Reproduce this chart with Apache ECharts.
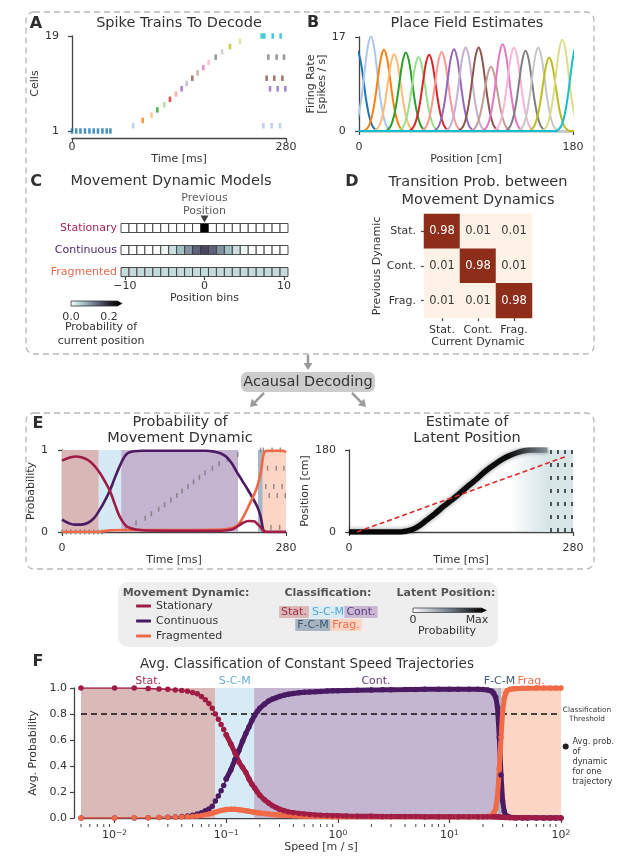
<!DOCTYPE html>
<html>
<head>
<meta charset="utf-8">
<script src="https://cdn.jsdelivr.net/npm/echarts@6.0.0/dist/echarts.min.js"></script>
<style>html,body{margin:0;padding:0;background:#fff;}#chart{width:617px;height:863px;}</style>
</head>
<body>
<div id="chart"></div>
<script>
// ---------------- DATA ----------------
// Panel A: spike trains
const spikeTimes = [0,5.5,11,17,22.8,28.4,34,39.8,45.4,50.2,
  80,92.5,104,111.7,120.8,128.2,136.1,143.5,150,157.4,164.4,171.8,178.8,188,196.3,206.7,219.8,
  248.2,251.6,262.6,273, 256.9,267.8,277.4, 254.7,264.7,275.2, 259.1,269.1,279.1, 250.3,261.2,272.1];
const spikeCells = [1,1,1,1,1,1,1,1,1,1,
  2,3,4,5,6,7,8,9,10,11,12,13,14,15,16,17,18,
  19,19,19,19, 15,15,15, 11,11,11, 9,9,9, 2,2,2];
const cellColors = ['#1f77b4','#aec7e8','#ff7f0e','#ffbb78','#2ca02c','#98df8a','#d62728','#ff9896','#9467bd','#c5b0d5',
  '#8c564b','#c49c94','#e377c2','#f7b6d2','#7f7f7f','#c7c7c7','#bcbd22','#dbdb8d','#17becf'];

// Panel B: place fields (centre, peak rate, shared shape)
const fieldCenters = [-1.5,10,21,29.6,39.4,50.1,59,69.5,79.9,89.7,100.6,111,120.8,130.4,140.1,150.8,160,171,183];
const fieldPeaks = [14.5,17.1,14.7,13.9,14.2,13.4,13.8,14.3,14.8,15.1,15.1,11.6,15.7,15.1,14.5,15.1,13.3,16.5,15.5];
const fieldShapeOffsets = [-17.5,-15,-12.5,-10,-7.5,-5,-2.5,0,2.5,5,7.5,10,12.5,15,17.5];
const fieldShapeFractions = [0,0.02,0.07,0.19,0.39,0.66,0.9,1,0.9,0.66,0.39,0.19,0.07,0.02,0];

// Panel C: movement dynamic models
const cRowNames = ['Fragmented','Continuous','Stationary'];
const cBins = [-10,-9,-8,-7,-6,-5,-4,-3,-2,-1,0,1,2,3,4,5,6,7,8,9,10];
const statBins = [0,0,0,0,0,0,0,0,0,0,1,0,0,0,0,0,0,0,0,0,0];
const contBins = [0,0,0,0,0.003,0.012,0.035,0.065,0.1,0.14,0.165,0.14,0.1,0.065,0.035,0.012,0.003,0,0,0,0];
const fragBins = [0.04,0.04,0.04,0.04,0.04,0.04,0.04,0.04,0.04,0.04,0.04,0.04,0.04,0.04,0.04,0.04,0.04,0.04,0.04,0.04,0.04];
const boneColors = ['#ffffff','#d3e3e3','#a8c7c7','#8ba1ab','#707b8f','#545574','#38384e','#1c1c27','#000000'];

// Panel D: transition matrix
const dynShort = ['Stat.','Cont.','Frag.'];
const transitionProbs = [[0.98,0.01,0.01],[0.01,0.98,0.01],[0.01,0.01,0.98]];

// Panel E left: probability of dynamic
const stationaryE = [[0,0.87],[10,0.91],[18,0.92],[28,0.9],[35,0.86],[42,0.79],[48,0.71],[54,0.61],[60,0.5],[66,0.34],[72,0.19],[79,0.085],[86,0.045],[93,0.03],[105,0.018],[150,0.015],[200,0.016],[212,0.03],[218,0.06],[226,0.11],[233,0.135],[240,0.13],[245,0.09],[249,0.05],[252,0.01],[256,0],[280,0]];
const continuousE = [[0,0.15],[8,0.11],[16,0.09],[24,0.09],[32,0.11],[40,0.17],[47,0.27],[54,0.39],[60,0.51],[66,0.66],[72,0.8],[77,0.9],[82,0.96],[90,0.985],[100,0.99],[180,0.99],[190,0.98],[198,0.96],[205,0.92],[212,0.84],[218,0.74],[225,0.63],[232,0.52],[238,0.42],[244,0.31],[248,0.2],[250,0.1],[252,0.02],[256,0],[280,0]];
const fragmentedE = [[0,0],[45,0],[52,0.01],[60,0.02],[80,0.025],[150,0.025],[200,0.03],[210,0.045],[218,0.07],[224,0.14],[230,0.25],[236,0.37],[242,0.5],[246,0.62],[249,0.75],[251,0.9],[253,0.97],[256,0.99],[276,0.99],[280,0.97]];
const eBandStarts = [0,46,74,245,251];
const eBandEnds = [46,74,220,251,280];
const eBandFills = ['#d9b7b7','#d5eaf5','#c4b4d0','#a8b7c5','#fdd5c4'];

// Panel E right: latent position estimate
const posteriorPath = [[0,0],[64,0],[72,2],[80,6],[88,14],[97,26],[108,41],[118,56],[129,71],[139,86],[151,104],[160,117],[168,130],[177,142],[185,152],[193,161],[201,168],[210,174],[218,178],[226,180],[248,180]];
const trueTrajectory = [[10,0],[270,165]];
const streakTimes = [252,261,270,278];

// Panel F: average classification vs speed
const speedSparse = [0.005,0.01,0.015,0.02,0.025,0.03,0.035,0.04,0.045,0.05,0.055,0.06,0.065,0.07,0.075,0.08,0.085,0.09,0.095,0.1];
const statSparse = [1,1,1,0.996,0.993,0.99,0.985,0.98,0.975,0.965,0.955,0.935,0.91,0.88,0.845,0.8,0.76,0.72,0.68,0.64];
const contSparse = [0,0,0,0.002,0.004,0.006,0.008,0.012,0.016,0.022,0.03,0.04,0.055,0.07,0.09,0.13,0.17,0.21,0.25,0.3];
const fragSparse = [0,0,0.001,0.002,0.003,0.004,0.005,0.007,0.009,0.012,0.015,0.02,0.025,0.03,0.037,0.045,0.052,0.058,0.062,0.066];
const speedDense = [0.1,0.11,0.12,0.13,0.14,0.15,0.16,0.17,0.18,0.19,0.2,0.22,0.24,0.26,0.28,0.3,0.33,0.36,0.4,0.45,0.5,0.56,0.63,0.7,0.8,0.9,1,1.2,1.5,2,2.5,3,4,5,6,8,10,12,15,18,20,22,24,25,26,27,28,29,30,31,32,33,35,38,40,45,50,60,70,80,90,100];
const statDense = [0.64,0.57,0.5,0.43,0.39,0.35,0.3,0.26,0.23,0.2,0.175,0.14,0.115,0.095,0.08,0.068,0.056,0.047,0.04,0.034,0.03,0.027,0.024,0.022,0.02,0.018,0.017,0.015,0.014,0.013,0.012,0.012,0.011,0.011,0.01,0.01,0.01,0.01,0.01,0.01,0.01,0.01,0.01,0.01,0.01,0.009,0.008,0.006,0.005,0.004,0.003,0.003,0.002,0.002,0.001,0.001,0.001,0.001,0,0,0,0];
const contDense = [0.3,0.37,0.45,0.52,0.59,0.65,0.7,0.75,0.79,0.82,0.845,0.875,0.9,0.915,0.925,0.935,0.945,0.952,0.958,0.963,0.967,0.97,0.972,0.974,0.976,0.978,0.979,0.981,0.983,0.985,0.986,0.987,0.988,0.989,0.99,0.99,0.99,0.99,0.99,0.99,0.988,0.985,0.975,0.96,0.93,0.85,0.62,0.33,0.13,0.05,0.02,0.01,0.005,0.002,0.001,0,0,0,0,0,0,0];
const fragDense = [0.066,0.068,0.067,0.064,0.06,0.056,0.052,0.048,0.044,0.041,0.038,0.034,0.03,0.027,0.025,0.023,0.021,0.019,0.017,0.015,0.014,0.013,0.012,0.011,0.011,0.01,0.01,0.01,0.01,0.01,0.01,0.01,0.01,0.01,0.01,0.01,0.01,0.01,0.01,0.01,0.01,0.012,0.02,0.035,0.07,0.17,0.38,0.62,0.82,0.92,0.96,0.98,0.99,0.995,0.997,0.998,0.999,1,1,1,1,1];
const fBandNames = ['Stat.','S-C-M','Cont.','F-C-M','Frag.'];
const fBandStarts = [0.005,0.08,0.178,27.2,29.1];
const fBandEnds = [0.08,0.178,27.2,29.1,100];
const fBandFills = ['#dab9b9','#d6ebf5','#c4b5d1','#a9b8c6','#fdd5c4'];
const fBandTextColors = ['#a8304f','#62b0d8','#5e3c80','#3f5c78','#f07050'];
const fThreshold = 0.8;
const fMajorTicks = [0.01,0.1,1,10,100];
const fMajorExp = ['\u22122','\u22121','0','1','2'];
const fMinorTicks = [0.005,0.006,0.007,0.008,0.009,0.02,0.03,0.04,0.05,0.06,0.07,0.08,0.09,0.2,0.3,0.4,0.5,0.6,0.7,0.8,0.9,2,3,4,5,6,7,8,9,20,30,40,50,60,70,80,90];

// ---------------- STYLE ----------------
const FF = 'DejaVu Sans', TX = '#333333', AX = '#444444';
const STAT_C = '#a01c45', CONT_C = '#4a1a63', FRAG_C = '#f06a47';
const dynLabelColors = {Stationary:'#a3264d', Continuous:'#4d2a6e', Fragmented:'#ec6c4d'};

function merge(a, b) {
  for (const k in b) {
    const v = b[k];
    if (v && typeof v === 'object' && !Array.isArray(v) && typeof v !== 'function' && a[k] && typeof a[k] === 'object' && !Array.isArray(a[k])) merge(a[k], v);
    else a[k] = v;
  }
  return a;
}
function ax(o) {
  return merge({
    splitLine:{show:false},
    axisLine:{show:true, lineStyle:{color:AX, width:1.3}},
    axisTick:{show:true, length:4, lineStyle:{color:AX, width:1.2}},
    axisLabel:{color:TX, fontSize:11, fontFamily:FF, margin:7},
    nameLocation:'middle',
    nameTextStyle:{color:TX, fontSize:11, fontFamily:FF}
  }, o);
}

// ---------------- SERIES ----------------
const series = [];
// A
series.push({type:'scatter', xAxisIndex:0, yAxisIndex:0, symbol:'rect', symbolSize:[2.6,5.5],
  data: spikeTimes.map((t,i)=>[t, spikeCells[i]]),
  itemStyle:{color:(p)=>cellColors[p.value[1]-1]}, silent:true});
// B
fieldCenters.forEach((c, k) => {
  const pts = [[-40,0]];
  fieldShapeOffsets.forEach((d, j) => pts.push([c + d, fieldPeaks[k] * fieldShapeFractions[j]]));
  pts.push([220,0]);
  series.push({type:'line', xAxisIndex:1, yAxisIndex:1, data:pts, smooth:0.35, symbol:'none',
    lineStyle:{color:cellColors[k], width:2}, silent:true});
});
// C
const cData = [];
[fragBins, contBins, statBins].forEach((arr, r) => arr.forEach((v, j) => cData.push([cBins[j], cRowNames[r], v])));
const cIndex = series.length;
series.push({type:'custom', xAxisIndex:2, yAxisIndex:2, data:cData, encode:{x:0, y:1}, silent:true,
  renderItem:(params, api) => {
    const a = api.coord([api.value(0) - 0.5, api.value(1)]);
    const b = api.coord([api.value(0) + 0.5, api.value(1)]);
    const h = 9;
    return {type:'rect', shape:{x:a[0], y:a[1]-h/2, width:b[0]-a[0], height:h},
      style:{fill:api.visual('color'), stroke:'#3a3a3a', lineWidth:0.9}};
  }});
series.push({type:'scatter', xAxisIndex:2, yAxisIndex:2, data:[[0,'Stationary']], symbol:'triangle', symbolRotate:180,
  symbolSize:[8,7], symbolOffset:[0,-9], itemStyle:{color:'#111'}, silent:true, z:5,
  label:{show:true, position:'top', distance:-2, formatter:'Previous\nPosition', color:TX, fontSize:11, lineHeight:13, fontFamily:FF}});
// D
const dData = [];
transitionProbs.forEach((row, r) => row.forEach((v, c) => dData.push({value:[c, r, v], label:{color: v > 0.5 ? '#ffffff' : '#3a3a3a'}})));
const dIndex = series.length;
series.push({type:'heatmap', xAxisIndex:3, yAxisIndex:3, data:dData, silent:true,
  label:{show:true, fontSize:11.5, fontFamily:FF, formatter:(p)=>p.value[2].toFixed(2)}});
// E left
series.push({type:'line', name:'Continuous', xAxisIndex:4, yAxisIndex:4, data:continuousE, smooth:0.4, symbol:'none',
  lineStyle:{color:CONT_C, width:2.6}, itemStyle:{color:CONT_C}, silent:true,
  markArea:{silent:true, data: eBandStarts.map((s,i)=>[{xAxis:s, itemStyle:{color:eBandFills[i]}}, {xAxis:eBandEnds[i]}])}});
series.push({type:'line', name:'Fragmented', xAxisIndex:4, yAxisIndex:4, data:fragmentedE, smooth:0.4, symbol:'none',
  lineStyle:{color:FRAG_C, width:2.6}, itemStyle:{color:FRAG_C}, silent:true});
series.push({type:'line', name:'Stationary', xAxisIndex:4, yAxisIndex:4, data:stationaryE, smooth:0.4, symbol:'none',
  lineStyle:{color:STAT_C, width:2.6}, itemStyle:{color:STAT_C}, silent:true});
series.push({type:'scatter', xAxisIndex:4, yAxisIndex:5, symbol:'rect', symbolSize:[1.5,5],
  data: spikeTimes.map((t,i)=>[t, spikeCells[i]]), itemStyle:{color:'rgba(105,105,105,0.85)'}, silent:true});
// E right
series.push({type:'line', xAxisIndex:5, yAxisIndex:6, data:posteriorPath, smooth:0.4, symbol:'none', silent:true,
  lineStyle:{width:5.5, color:new echarts.graphic.LinearGradient(0,0,1,0,[{offset:0,color:'#050505'},{offset:0.8,color:'#0d0d0d'},{offset:1,color:'#8d9aa1'}]),
    shadowBlur:4, shadowColor:'rgba(30,45,55,0.55)'},
  markArea:{silent:true, data:[[{xAxis:200, itemStyle:{color:new echarts.graphic.LinearGradient(0,0,1,0,[{offset:0,color:'rgba(214,228,230,0)'},{offset:0.6,color:'rgba(214,228,230,0.95)'},{offset:1,color:'rgba(214,228,230,0.95)'}])}},{xAxis:280}]]}});
series.push({type:'line', xAxisIndex:5, yAxisIndex:6, data:[], silent:true,
  markLine:{silent:true, symbol:['none','none'], label:{show:false}, lineStyle:{color:'#263038', width:1.6, type:[4,9]},
    data: streakTimes.map(t=>({xAxis:t}))}});
series.push({type:'line', xAxisIndex:5, yAxisIndex:6, data:trueTrajectory, symbol:'none', silent:true,
  lineStyle:{color:'#e02b2b', width:1.6, type:[5,3]}});
// F
series.push({type:'line', xAxisIndex:6, yAxisIndex:7, data:[], silent:true,
  markArea:{silent:true, label:{show:true, position:'top', distance:1, fontSize:11, fontFamily:FF},
    data: fBandNames.map((n,i)=>[{name:n, xAxis:fBandStarts[i], itemStyle:{color:fBandFills[i]}, label:{color:fBandTextColors[i]}}, {xAxis:fBandEnds[i]}])},
  markLine:{silent:true, z:1.5, symbol:['none','none'], label:{show:false}, lineStyle:{color:'#111', width:1.5, type:[6,4]},
    data:[{yAxis:fThreshold}]}});
function fSeries(name, xs, ys, color, dense) {
  return {type:'line', name, xAxisIndex:6, yAxisIndex:7, data: xs.map((x,i)=>[x, ys[i]]), symbol:'circle', symbolSize:5.5,
    showSymbol:true, itemStyle:{color}, lineStyle:{color, width: dense ? 5 : 1.5}, silent:true};
}
series.push(fSeries('Continuous avg', speedSparse, contSparse, CONT_C, false));
series.push(fSeries('Continuous avg', speedDense, contDense, CONT_C, true));
series.push(fSeries('Fragmented avg', speedSparse, fragSparse, FRAG_C, false));
series.push(fSeries('Fragmented avg', speedDense, fragDense, FRAG_C, true));
series.push(fSeries('Stationary avg', speedSparse, statSparse, STAT_C, false));
series.push(fSeries('Stationary avg', speedDense, statDense, STAT_C, true));
series.push({type:'custom', xAxisIndex:6, yAxisIndex:7, data: fMinorTicks.map(v=>[v,0]), silent:true, clip:false,
  renderItem:(params, api) => {
    const p = api.coord([api.value(0), 0]);
    return {type:'line', shape:{x1:p[0], y1:p[1]+6, x2:p[0], y2:p[1]+9}, style:{stroke:AX, lineWidth:1}};
  }});

// ---------------- GRAPHICS (frames, titles, annotations) ----------------
const G = [];
function txt(x, y, text, o) {
  o = o || {};
  G.push({type:'text', x, y, silent:true, z:10, style:Object.assign({text, fill:TX, fontSize:11, fontFamily:FF,
    align:'center', verticalAlign:'middle'}, o)});
}
function arrow(x1, y1, x2, y2) {
  const dx = x2-x1, dy = y2-y1, L = Math.hypot(dx,dy), ux = dx/L, uy = dy/L, hl = 7, hw = 4.5;
  const bx = x2-ux*hl, by = y2-uy*hl;
  G.push({type:'line', silent:true, shape:{x1, y1, x2:bx, y2:by}, style:{stroke:'#9b9b9b', lineWidth:2.5}});
  G.push({type:'polygon', silent:true, shape:{points:[[x2,y2],[bx-uy*hw, by+ux*hw],[bx+uy*hw, by-ux*hw]]}, style:{fill:'#9b9b9b'}});
}
function chip(x, y, text, bg, fg) {
  G.push({type:'text', x, y, silent:true, z:10, style:{text, fill:fg, fontSize:11, fontFamily:FF, align:'center', verticalAlign:'middle',
    backgroundColor:bg, padding:[1,2,0,2]}});
}
// dashed frames
G.push({type:'rect', silent:true, shape:{x:26, y:12, width:568, height:342, r:8}, style:{fill:'none', stroke:'#b8b8b8', lineWidth:1.3, lineDash:[6,4]}});
G.push({type:'rect', silent:true, shape:{x:26, y:413, width:568, height:156, r:8}, style:{fill:'none', stroke:'#b8b8b8', lineWidth:1.3, lineDash:[6,4]}});
// panel letters
[['A',36,24],['B',313,23],['C',36,182],['D',352,182],['E',38,424],['F',38,662]].forEach(l =>
  txt(l[1], l[2], l[0], {fontSize:16, fontWeight:'bold', fill:'#2e2e2e'}));
// titles
txt(179, 23, 'Spike Trains To Decode', {fontSize:14.5});
txt(467, 23, 'Place Field Estimates', {fontSize:14.5});
txt(171, 181, 'Movement Dynamic Models', {fontSize:14.5});
txt(478, 191, 'Transition Prob. between\nMovement Dynamics', {fontSize:14.5, lineHeight:17.5});
txt(180, 430, 'Probability of\nMovement Dynamic', {fontSize:14.5, lineHeight:16.5});
txt(467, 430, 'Estimate of\nLatent Position', {fontSize:14.5, lineHeight:16.5});
txt(307, 664, 'Avg. Classification of Constant Speed Trajectories', {fontSize:13.5});
// acausal decoding
G.push({type:'rect', silent:true, shape:{x:241, y:372, width:134, height:20, r:6}, style:{fill:'#cccccc'}});
txt(308, 382, 'Acausal Decoding', {fontSize:14.5});
arrow(308, 355, 308, 370);
arrow(264, 393, 250, 407);
arrow(352, 393, 366, 407);
// C colourbar
G.push({type:'rect', silent:true, shape:{x:71, y:301, width:46, height:5},
  style:{fill:new echarts.graphic.LinearGradient(0,0,1,0, boneColors.map((c,i)=>({offset:i/(boneColors.length-1), color:c}))), stroke:'#333', lineWidth:0.8}});
G.push({type:'polygon', silent:true, shape:{points:[[117,300.5],[122.5,303.5],[117,306.5]]}, style:{fill:'#000'}});
txt(71, 317, '0.0');
txt(109, 317, '0.2');
txt(101, 334, 'Probability of\ncurrent position', {lineHeight:14.3});
// legend box
G.push({type:'rect', silent:true, shape:{x:118, y:582, width:380, height:65, r:10}, style:{fill:'#eeeeee'}});
txt(186, 593, 'Movement Dynamic:', {fontWeight:'bold', fill:'#555'});
txt(328, 593, 'Classification:', {fontWeight:'bold', fill:'#555'});
txt(446, 593, 'Latent Position:', {fontWeight:'bold', fill:'#555'});
chip(294, 612, 'Stat.', '#dab8b8', '#a2304e');
chip(328, 612, 'S-C-M', '#d7ecf6', '#5aa5d0');
chip(361, 612, 'Cont.', '#c7b7d3', '#5b3b7e');
chip(313, 625, 'F-C-M', '#a7b5c3', '#3c5670');
chip(346, 625, 'Frag.', '#fdd3c2', '#ee6f4b');
G.push({type:'rect', silent:true, shape:{x:413, y:608, width:68, height:4.5},
  style:{fill:new echarts.graphic.LinearGradient(0,0,1,0,[{offset:0,color:'#ffffff'},{offset:0.5,color:'#7d8696'},{offset:1,color:'#000000'}]), stroke:'#444', lineWidth:0.8}});
G.push({type:'polygon', silent:true, shape:{points:[[481,607.5],[487,610.25],[481,613]]}, style:{fill:'#000'}});
txt(413, 620, '0');
txt(477, 620, 'Max');
txt(447, 631, 'Probability');
// F annotations
txt(587, 714.5, 'Classification\nThreshold', {fontSize:7.3, lineHeight:9});
G.push({type:'circle', silent:true, shape:{cx:565.7, cy:746.5, r:3}, style:{fill:'#222'}});
txt(572.5, 762, 'Avg. prob.\nof\ndynamic\nfor one\ntrajectory', {fontSize:8.2, lineHeight:10.1, align:'left'});

// ---------------- OPTION ----------------
const option = {
  animation:false,
  backgroundColor:'#ffffff',
  textStyle:{fontFamily:FF},
  grid:[
    {left:72, top:36, width:214, height:95},
    {left:359, top:37, width:214, height:94},
    {left:121, top:217, width:167, height:66},
    {left:424, top:214, width:108, height:104},
    {left:62, top:450, width:224, height:82},
    {left:349, top:450, width:224, height:82},
    {left:81, top:688, width:480, height:130}
  ],
  xAxis:[
    ax({gridIndex:0, type:'value', min:0, max:280, offset:7, name:'Time [ms]', nameGap:15, axisLabel:{customValues:[0,280], margin:4}, axisTick:{customValues:[0,280]}}),
    ax({gridIndex:1, type:'value', min:0, max:180, offset:7, name:'Position [cm]', nameGap:15, axisLabel:{customValues:[0,180], margin:4}, axisTick:{customValues:[0,180]}}),
    ax({gridIndex:2, type:'value', min:-10.5, max:10.5, offset:-6, name:'Position bins', nameGap:15, axisLine:{show:false},
      axisTick:{customValues:[-10,0,10], length:3}, axisLabel:{customValues:[-10,0,10], margin:4, formatter:(v)=> v < 0 ? '\u2212' + Math.abs(v) : String(v)}}),
    ax({gridIndex:3, type:'category', data:dynShort, name:'Current Dynamic', nameGap:17, axisLine:{show:false}, axisTick:{alignWithLabel:true, length:3, interval:0}, axisLabel:{margin:7, interval:0}}),
    ax({gridIndex:4, type:'value', min:0, max:280, offset:6.5, name:'Time [ms]', nameGap:14, axisLabel:{customValues:[0,280], margin:4}, axisTick:{customValues:[0,280]}}),
    ax({gridIndex:5, type:'value', min:0, max:280, offset:6.5, name:'Time [ms]', nameGap:14, axisLabel:{customValues:[0,280], margin:4}, axisTick:{customValues:[0,280]}}),
    ax({gridIndex:6, type:'log', logBase:10, min:0.005, max:100, offset:6, name:'Speed [m / s]', nameGap:18,
      axisTick:{customValues:fMajorTicks, length:5},
      axisLabel:{customValues:fMajorTicks, margin:5,
        formatter:(v)=>{ const i = fMajorTicks.findIndex(t => Math.abs(t - v) / t < 1e-6); return '10{s|' + (i >= 0 ? fMajorExp[i] : '') + '}'; },
        rich:{s:{fontSize:7.5, verticalAlign:'top', color:TX, fontFamily:FF, padding:[0,0,5,0]}}}})
  ],
  yAxis:[
    ax({gridIndex:0, type:'value', min:1, max:19, offset:6, name:'Cells', nameGap:19.5, axisLabel:{customValues:[1,19]}, axisTick:{customValues:[1,19]}}),
    ax({gridIndex:1, type:'value', min:0, max:17, offset:6.3, name:'Firing Rate\n[spikes / s]', nameGap:20, nameTextStyle:{lineHeight:11}, axisLabel:{customValues:[0,17]}, axisTick:{customValues:[0,17]}}),
    ax({gridIndex:2, type:'category', data:cRowNames, axisLine:{show:false}, axisTick:{show:false},
      axisLabel:{margin:4, interval:0, color:(v)=>dynLabelColors[v]}}),
    ax({gridIndex:3, type:'category', data:dynShort, inverse:true, name:'Previous Dynamic', nameGap:34, axisLine:{show:false}, axisTick:{alignWithLabel:true, length:3, interval:0}, axisLabel:{margin:8, interval:0}}),
    ax({gridIndex:4, type:'value', min:0, max:1, offset:7, name:'Probability', nameGap:11, axisLabel:{customValues:[0,1]}, axisTick:{customValues:[0,1]}}),
    {gridIndex:4, type:'value', min:1, max:19, show:false},
    ax({gridIndex:5, type:'value', min:0, max:180, offset:6, name:'Position [cm]', nameGap:23, axisLabel:{customValues:[0,180]}, axisTick:{customValues:[0,180]}}),
    ax({gridIndex:6, type:'value', min:0, max:1, interval:0.2, offset:7, name:'Avg. Probability', nameGap:22, axisLabel:{formatter:(v)=>v.toFixed(1)}})
  ],
  visualMap:[
    {type:'continuous', show:false, seriesIndex:cIndex, dimension:2, min:0, max:0.24, inRange:{color:boneColors}},
    {type:'continuous', show:false, seriesIndex:dIndex, dimension:2, min:0, max:1, inRange:{color:['#fff4e8','#8b2916']}}
  ],
  legend:{orient:'vertical', left:136, top:599.5, padding:0, itemGap:2, itemWidth:15, itemHeight:3, icon:'roundRect', selectedMode:false,
    textStyle:{fontSize:11, color:TX, fontFamily:FF, lineHeight:13},
    data:[{name:'Stationary', itemStyle:{color:STAT_C}}, {name:'Continuous', itemStyle:{color:CONT_C}}, {name:'Fragmented', itemStyle:{color:FRAG_C}}]},
  graphic:G,
  series
};
const chart = echarts.init(document.getElementById('chart'), null, {renderer:'canvas'});
chart.setOption(option);
</script>
</body>
</html>
